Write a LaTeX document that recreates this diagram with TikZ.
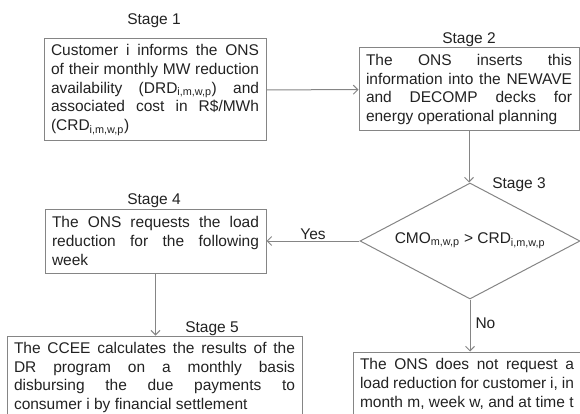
\documentclass[tikz,border=0pt]{standalone}
\usepackage{fontspec}
\setmainfont{Liberation Sans}
\usetikzlibrary{arrows.meta,shapes.geometric}
\definecolor{linegray}{HTML}{858585}
\definecolor{inkgray}{HTML}{222222}
\newcommand{\ix}[1]{\textsubscript{#1}}
\begin{document}
\begin{tikzpicture}[
        x=1pt, y=-1pt,
        >={Straight Barb[length=4.5pt,width=9pt]},
        every node/.style={text=inkgray, font=\fontsize{15.5}{18.8}\selectfont},
        box/.style={draw=linegray, line width=1pt, align=justify, inner xsep=7pt, inner ysep=0pt},
        decision/.style={diamond, draw=linegray, line width=1pt, aspect=1.9, inner sep=0pt, minimum width=220pt, minimum height=116pt},
        tag/.style={inner sep=1pt},
        rel/.style={->, draw=linegray, line width=1pt}
    ]
        \useasboundingbox (0,0) rectangle (580,414);
        \clip (0,0) rectangle (580,414);

        \node[tag, anchor=base] (stage1) at (154,24.5) {Stage 1};
        \node[tag, anchor=base] (stage2) at (469,43.5) {Stage 2};
        \node[tag, anchor=base] (stage3) at (519,188.5) {Stage 3};
        \node[tag, anchor=base] (stage4) at (154,204.5) {Stage 4};
        \node[tag, anchor=base] (stage5) at (212,332) {Stage 5};

        \node[box, text width=208pt, minimum height=102pt] (inform) at (155,90) {Customer i informs the ONS\linebreak of their monthly MW reduction\linebreak availability (DRD\ix{i,m,w,p}) and\linebreak associated cost in R\$/MWh\linebreak (CRD\ix{i,m,w,p})};
        \node[box, text width=206pt, minimum height=83pt] (insert) at (469,89.5) {The ONS inserts this\linebreak information into the NEWAVE\linebreak and DECOMP decks for\linebreak energy operational planning};

        \node[decision] (check) at (470,241) {CMO\ix{m,w,p} > CRD\ix{i,m,w,p}};

        \node[box, text width=207pt, minimum height=64pt] (request) at (155.5,241) {The ONS requests the load\linebreak reduction for the following\linebreak week};
        \node[box, text width=281pt, minimum height=83pt] (settle) at (154.5,377.5) {The CCEE calculates the results of the\linebreak DR program on a monthly basis\linebreak disbursing the due payments to\linebreak consumer i by financial settlement};
        \node[box, text width=214pt, minimum height=64pt] (norequest) at (467,384) {The ONS does not request a\linebreak load reduction for customer i, in\linebreak month m, week w, and at time t};

        \draw[rel] (inform) -- (insert);
        \draw[rel] (insert.south) -- (insert.south |- check.north);
        \draw[rel] (check) -- node[tag, above] {Yes} (request);
        \draw[rel] (request) -- (request |- settle.north);
        \draw[rel] (check) -- node[tag, right=4pt, pos=0.45] {No} (check |- norequest.north);
    \end{tikzpicture}
\end{document}
